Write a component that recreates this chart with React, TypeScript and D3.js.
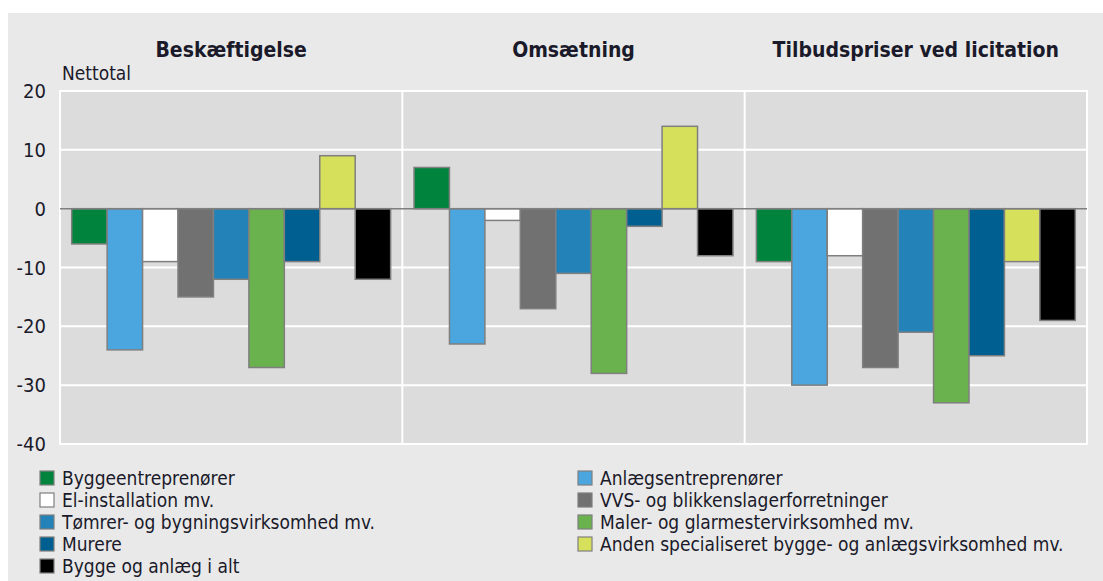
import React, { useEffect, useRef } from "react";
import * as d3 from "d3";

// Data
const panels = ["Beskæftigelse", "Omsætning", "Tilbudspriser ved licitation"];
const series = [
  "Byggeentreprenører",
  "Anlægsentreprenører",
  "El-installation mv.",
  "VVS- og blikkenslagerforretninger",
  "Tømrer- og bygningsvirksomhed mv.",
  "Maler- og glarmestervirksomhed mv.",
  "Murere",
  "Anden specialiseret bygge- og anlægsvirksomhed mv.",
  "Bygge og anlæg i alt",
];
const colors = ["#00843d", "#4ba5de", "#ffffff", "#717171", "#2383b8", "#6ab24e", "#005f91", "#d6e05a", "#000000"];
const beskaeftigelse = [-6, -24, -9, -15, -12, -27, -9, 9, -12];
const omsaetning = [7, -23, -2, -17, -11, -28, -3, 14, -8];
const tilbudspriser = [-9, -30, -8, -27, -21, -33, -25, -9, -19];
const yTicks = [20, 10, 0, -10, -20, -30, -40];

const FONT = "'DejaVu Sans Condensed', 'DejaVu Sans', sans-serif";

const App = () => {
  const ref = useRef<SVGSVGElement>(null);
  const width = 1103;
  const height = 581;
  const margin = { top: 91, right: 16, bottom: 137, left: 60 };

  useEffect(() => {
    const svg = d3.select(ref.current);
    svg.selectAll("*").remove();

    const values = [beskaeftigelse, omsaetning, tilbudspriser];

    // outer background
    svg.append("rect").attr("x", 8).attr("y", 13).attr("width", width - 8).attr("height", height - 13).attr("fill", "#e9e9e9");

    const x0 = d3.scaleBand().domain(panels).range([margin.left, width - margin.right]);
    const x1 = d3.scaleBand().domain(series).range([0, x0.bandwidth()]).paddingOuter(0.33).paddingInner(0);
    const y = d3.scaleLinear().domain([-40, 20]).range([height - margin.bottom, margin.top]);

    // plot area
    svg.append("rect")
      .attr("x", margin.left).attr("y", margin.top)
      .attr("width", width - margin.left - margin.right)
      .attr("height", y(-40) - y(20))
      .attr("fill", "#dcdcdc").attr("stroke", "#ffffff").attr("stroke-width", 2);

    // gridlines
    svg.append("g").selectAll("line")
      .data(yTicks.filter(d => d !== 0 && d !== 20 && d !== -40))
      .join("line")
      .attr("x1", margin.left).attr("x2", width - margin.right)
      .attr("y1", d => y(d)).attr("y2", d => y(d))
      .attr("stroke", "#ffffff").attr("stroke-width", 2);

    // panel dividers
    svg.append("g").selectAll("line")
      .data(panels.slice(1))
      .join("line")
      .attr("x1", d => x0(d)!).attr("x2", d => x0(d)!)
      .attr("y1", margin.top).attr("y2", y(-40))
      .attr("stroke", "#ffffff").attr("stroke-width", 2);

    // y tick labels
    svg.append("g").selectAll("text")
      .data(yTicks)
      .join("text")
      .attr("x", 46).attr("y", d => y(d))
      .attr("dy", "0.35em")
      .attr("text-anchor", "end")
      .attr("font-family", FONT).attr("font-size", 20).attr("fill", "#1a1a2a")
      .text(d => d);

    svg.append("text")
      .attr("x", 62).attr("y", 80)
      .attr("font-family", FONT).attr("font-size", 19).attr("fill", "#1a1a2a")
      .text("Nettotal");

    // panel titles
    svg.append("g").selectAll("text")
      .data(panels)
      .join("text")
      .attr("x", d => x0(d)! + x0.bandwidth() / 2)
      .attr("y", 57)
      .attr("text-anchor", "middle")
      .attr("font-family", FONT).attr("font-size", 21).attr("font-weight", "bold").attr("fill", "#1a1a2a")
      .text(d => d);

    // bars
    panels.forEach((p, pi) => {
      svg.append("g")
        .attr("transform", `translate(${x0(p)},0)`)
        .selectAll("rect")
        .data(values[pi])
        .join("rect")
        .attr("x", (_, i) => x1(series[i])!)
        .attr("width", x1.bandwidth())
        .attr("y", d => y(Math.max(0, d)))
        .attr("height", d => Math.abs(y(d) - y(0)))
        .attr("fill", (_, i) => colors[i])
        .attr("stroke", "#7f7f7f").attr("stroke-width", 1.5);
    });

    // zero line
    svg.append("line")
      .attr("x1", margin.left).attr("x2", width - margin.right)
      .attr("y1", y(0)).attr("y2", y(0))
      .attr("stroke", "#7f7f7f").attr("stroke-width", 1.5);

    // legend
    const cols = [40, 578];
    const legendIdx = [[0, 2, 4, 6, 8], [1, 3, 5, 7]];
    legendIdx.forEach((idxs, c) => {
      const g = svg.append("g").selectAll("g")
        .data(idxs)
        .join("g")
        .attr("transform", (_, r) => `translate(${cols[c]},${478 + r * 22})`);
      g.append("rect")
        .attr("x", 0).attr("y", -7).attr("width", 14).attr("height", 14)
        .attr("fill", d => colors[d]).attr("stroke", "#7f7f7f").attr("stroke-width", 1.2);
      g.append("text")
        .attr("x", 22).attr("y", 0).attr("dy", "0.35em")
        .attr("font-family", FONT).attr("font-size", 19).attr("fill", "#1a1a2a")
        .text(d => series[d]);
    });
  });

  return (
    <svg ref={ref} width={width} height={height} style={{ position: "absolute", left: 0, top: 0 }} />
  );
};

export default App;
